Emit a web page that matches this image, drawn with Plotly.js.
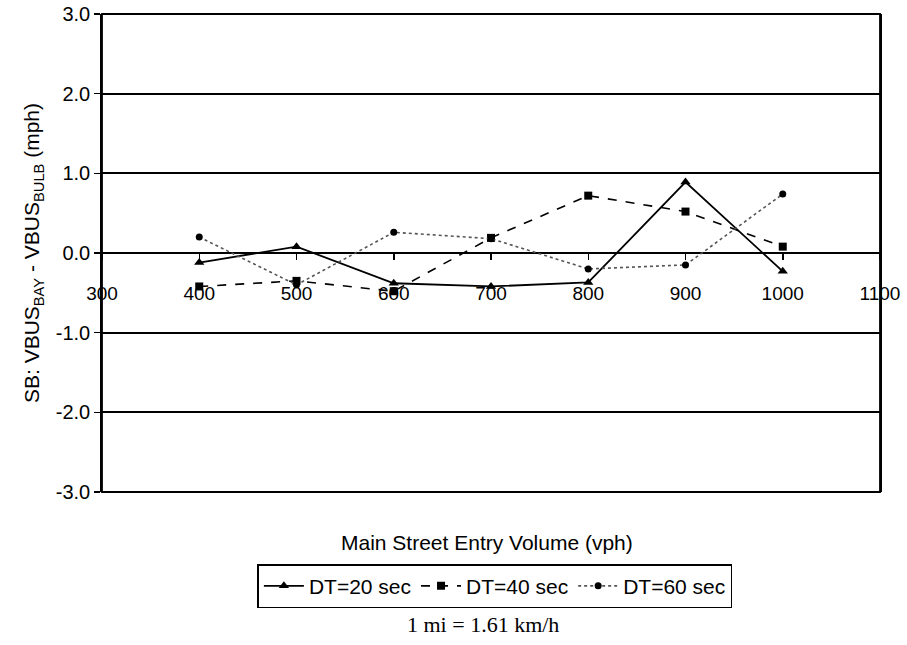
<!DOCTYPE html>
<html><head><meta charset="utf-8">
<script src="https://cdn.plot.ly/plotly-3.0.1.min.js"></script>
<style>body{margin:0;background:#fff}</style>
</head><body>
<div id="chart" style="width:907px;height:645px"></div>
<script>
const volumes = [400, 500, 600, 700, 800, 900, 1000];
const dt20 = [-0.12, 0.08, -0.38, -0.42, -0.37, 0.89, -0.23];
const dt40 = [-0.42, -0.35, -0.48, 0.19, 0.72, 0.52, 0.08];
const dt60 = [0.20, -0.40, 0.26, 0.18, -0.20, -0.15, 0.74];
const seriesNames = ['DT=20 sec', 'DT=40 sec', 'DT=60 sec'];
const yTicks = [-3, -2, -1, 0, 1, 2, 3];
const yTickText = ['-3.0', '-2.0', '-1.0', '0.0', '1.0', '2.0', '3.0'];

const fam = 'Liberation Sans, Arial, sans-serif';
const xTickFont = {family: fam, size: 19, color: '#000'};
const yTickFont = {family: fam, size: 20, color: '#000'};
const font = {family: fam, size: 21, color: '#000'};

const traces = [
  {x: volumes, y: dt20, name: seriesNames[0], mode: 'lines+markers',
   line: {color: '#000', width: 1.8, dash: 'solid'},
   marker: {symbol: 'triangle-up', size: 9, color: '#000'}},
  {x: volumes, y: dt40, name: seriesNames[1], mode: 'lines+markers',
   line: {color: '#000', width: 1.6, dash: 'dash'},
   marker: {symbol: 'square', size: 8, color: '#000'}},
  {x: volumes, y: dt60, name: seriesNames[2], mode: 'lines+markers',
   line: {color: '#555', width: 1.6, dash: 'dot'},
   marker: {symbol: 'circle', size: 7, color: '#000'}}
];

const layout = {
  width: 907, height: 645,
  margin: {l: 102, r: 27, t: 14, b: 153},
  paper_bgcolor: '#fff', plot_bgcolor: '#fff',
  font: font,
  showlegend: true,
  legend: {orientation: 'h', x: 0.505, xanchor: 'center', y: -0.151, yanchor: 'top',
           bordercolor: '#000', borderwidth: 1.5, font: font,
           itemwidth: 40, tracegroupgap: 0},
  xaxis: {range: [300, 1100], dtick: 100, tick0: 300, anchor: 'free', position: 0.5,
          showgrid: false, zeroline: false, showline: false,
          ticks: 'outside', ticklen: 6, tickwidth: 1.5, tickcolor: '#000',
          ticklabelstandoff: 17, tickfont: xTickFont},
  yaxis: {range: [-3, 3], tickvals: yTicks, ticktext: yTickText,
          showgrid: true, gridcolor: '#000', gridwidth: 1.8,
          zeroline: true, zerolinecolor: '#000', zerolinewidth: 1.8,
          showline: true, linecolor: '#000', linewidth: 1.8, mirror: true,
          ticks: 'outside', ticklen: 6, tickwidth: 1.5, tickcolor: '#000',
          tickfont: yTickFont,
          title: {text: 'SB: VBUS<sub>BAY</sub> - VBUS<sub>BULB</sub> (mph)', font: font, standoff: 10}},
  shapes: [
    {type: 'rect', xref: 'paper', yref: 'paper', x0: 0, x1: 1, y0: 0, y1: 1,
     line: {color: '#000', width: 1.8}}
  ],
  annotations: [
    {text: 'Main Street Entry Volume (vph)', xref: 'paper', yref: 'paper',
     x: 0.495, y: -0.105, xanchor: 'center', yanchor: 'middle', showarrow: false, font: font},
    {text: '1 mi = 1.61 km/h', xref: 'paper', yref: 'paper',
     x: 0.49, y: -0.278, xanchor: 'center', yanchor: 'middle', showarrow: false,
     font: {family: 'Liberation Serif, Times New Roman, serif', size: 22, color: '#000'}}
  ]
};

Plotly.newPlot('chart', traces, layout, {displayModeBar: false, staticPlot: true});
</script>
</body></html>
